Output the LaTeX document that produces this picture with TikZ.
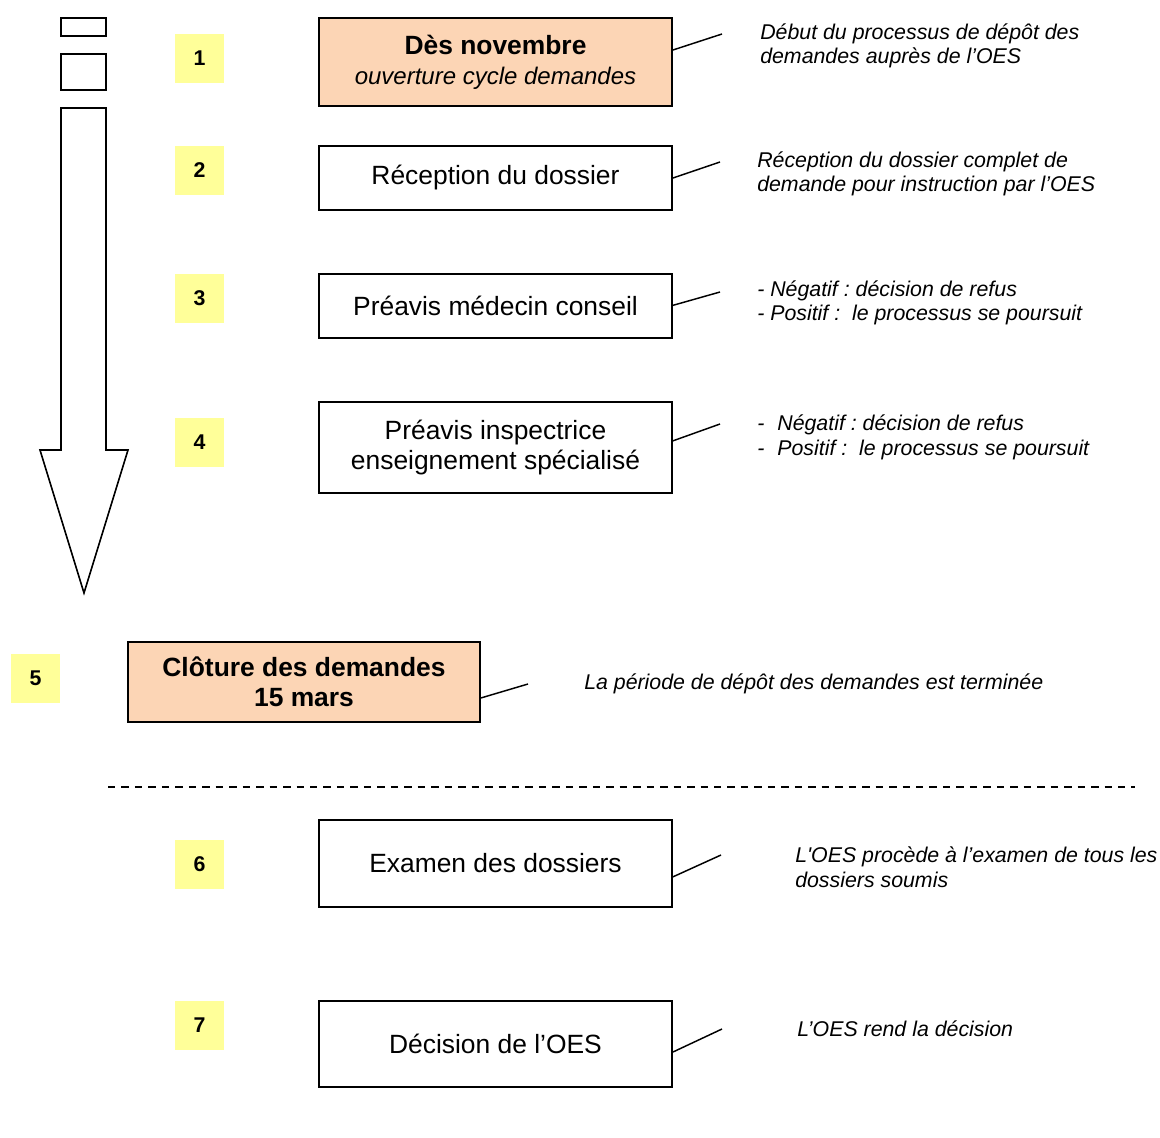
\documentclass[tikz,border=0pt]{standalone}
\usepackage{fontspec}
\setmainfont{Liberation Sans}[Ligatures=TeXOff]
\frenchspacing
\definecolor{peach}{HTML}{FCD5B5}
\definecolor{numyellow}{HTML}{FFFF99}
\tikzset{
  stepbox/.style={draw=black, line width=1.2pt, minimum width=265pt, inner sep=0pt, align=center,
    font=\fontsize{19.8}{22.5}\selectfont},
  keybox/.style={stepbox, fill=peach},
  numbox/.style={fill=numyellow, minimum width=36.75pt, minimum height=36.75pt, inner sep=0pt,
    font=\fontsize{16}{18}\selectfont\bfseries},
  note/.style={anchor=west, align=left, inner sep=0pt, font=\fontsize{16}{18.4}\selectfont\itshape\frenchspacing},
  link/.style={draw=black, line width=1.1pt},
  outline/.style={draw=black, line width=1.2pt}
}
\begin{document}
\begin{tikzpicture}[x=0.75pt, y=-0.75pt]
\useasboundingbox (0,0) rectangle (1160,1138);
% left timeline arrow
\draw[outline] (61,18) rectangle (106,36);
\draw[outline] (61,54) rectangle (106,90);
\draw[outline, line join=miter] (61,108) -- (106,108) -- (106,450) -- (128,450) -- (84,593) -- (40,450) -- (61,450) -- cycle;
% number boxes
\node[numbox] (n1) at (199.5,58.5) {1};
\node[numbox] (n2) at (199.5,170.5) {2};
\node[numbox] (n3) at (199.5,298.5) {3};
\node[numbox] (n4) at (199.5,442.5) {4};
\node[numbox] (n5) at (35.5,678.5) {5};
\node[numbox] (n6) at (199.5,864.5) {6};
\node[numbox] (n7) at (199.5,1025.5) {7};
% step boxes
\node[keybox, minimum height=66pt] (b1) at (495.5,62) {\textbf{Dès novembre}\\{\fontsize{18}{22.5}\selectfont\itshape ouverture cycle demandes}};
\node[stepbox, minimum height=48pt] (b2) at (495.5,178) {\raisebox{1pt}{Réception du dossier}};
\node[stepbox, minimum height=48pt] (b3) at (495.5,306) {\raisebox{1pt}{Préavis médecin conseil}};
\node[stepbox, minimum height=68.25pt] (b4) at (495.5,447.5) {Préavis inspectrice\\enseignement spécialisé};
\node[keybox, minimum width=264pt, minimum height=60pt, font=\fontsize{19.8}{22.5}\selectfont\bfseries] (b5) at (304,682) {Clôture des demandes\\15 mars};
\node[stepbox, minimum height=65.25pt] (b6) at (495.5,863.5) {Examen des dossiers};
\node[stepbox, minimum height=64.5pt] (b7) at (495.5,1044) {Décision de l’OES};
% notes
\node[note] (t1) at (760,46) {Début du processus de dépôt des\\demandes auprès de l’OES};
\node[note] (t2) at (757,174) {Réception du dossier complet de\\demande pour instruction par l’OES};
\node[note] (t3) at (757,303) {- Négatif : décision de refus\\- Positif :\ \ le processus se poursuit};
\node[note] (t4) at (757,437.5) {-\hspace{9.75pt}Négatif : décision de refus\\-\hspace{9.75pt}Positif :\ \ le processus se poursuit};
\node[note] (t5) at (584,684) {La période de dépôt des demandes est terminée};
\node[note] (t6) at (795,867.5) {L'OES procède à l’examen de tous les\\dossiers soumis};
\node[note] (t7) at (797,1029) {L’OES rend la décision};
% connector free ends
\coordinate (c1) at (722,34);
\coordinate (c2) at (720,162);
\coordinate (c3) at (720,292);
\coordinate (c4) at (720,424);
\coordinate (c5) at (528,684);
\coordinate (c6) at (721,855);
\coordinate (c7) at (722,1029);
\draw[link] ([yshift=9pt]b1.east) -- (c1);
\draw[link] (b2.east) -- (c2);
\draw[link] ([yshift=0.5pt]b3.east) -- (c3);
\draw[link] ([yshift=5pt]b4.east) -- (c4);
\draw[link] ([yshift=-12pt]b5.east) -- (c5);
\draw[link] ([yshift=-10pt]b6.east) -- (c6);
\draw[link] ([yshift=-6pt]b7.east) -- (c7);
% dashed separator
\coordinate (d1) at (108,787);
\coordinate (d2) at (1135,787);
\draw[line width=1.3pt, dash pattern=on 5.6pt off 4.5pt] (d1) -- (d2);
\end{tikzpicture}
\end{document}
